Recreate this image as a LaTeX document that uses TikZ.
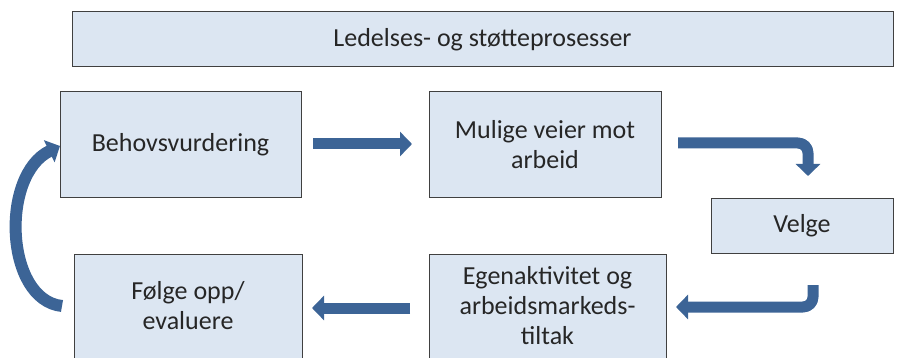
\documentclass[tikz,border=0pt]{standalone}
\usepackage{fontspec}
\setmainfont{Carlito}
\usetikzlibrary{arrows.meta}
\definecolor{boxfill}{HTML}{DCE6F2}
\definecolor{boxline}{HTML}{404040}
\definecolor{arrowblue}{HTML}{3C6496}
\tikzset{
  procbox/.style={draw=boxline, line width=1pt, fill=boxfill, text=black!85, font=\fontsize{26}{30}\selectfont, align=center, inner sep=0pt},
  flow/.style={draw=arrowblue, line width=11pt, -{Triangle[width=24pt,length=12pt]}, line join=round},
}
\begin{document}
\begin{tikzpicture}[x=1pt,y=-1pt]
\useasboundingbox (0,0) rectangle (901,358);
\node[procbox, minimum width=821pt, minimum height=55pt] (top) at (482.5,39.5) {Ledelses- og støtteprosesser};
\node[procbox, minimum width=241pt, minimum height=105pt] (beh) at (180.5,144.5) {Behovsvurdering};
\node[procbox, minimum width=232pt, minimum height=105pt] (mul) at (545,144.5) {Mulige veier mot\\arbeid};
\node[procbox, minimum width=182pt, minimum height=55pt] (vel) at (802,225.5) {Velge};
\node[procbox, minimum width=237pt, minimum height=104pt] (ege) at (547.5,306) {Egenaktivitet og\\arbeidsmarkeds-\\tiltak};
\node[procbox, minimum width=228pt, minimum height=104pt] (fol) at (188,306) {Følge opp/\\evaluere};
\coordinate (a1s) at (313,144);
\coordinate (a1e) at (412,144);
\draw[flow] (a1s) -- (a1e);
\coordinate (a2s) at (678,143);
\coordinate (a2e) at (808,176);
\draw[flow, rounded corners=10pt] (a2s) -- (808,143) -- (a2e);
\coordinate (a3s) at (813,285);
\coordinate (a3e) at (676,307);
\draw[flow, rounded corners=10pt] (a3s) -- (813,307) -- (a3e);
\coordinate (a4s) at (410,308);
\coordinate (a4e) at (312,308);
\draw[flow] (a4s) -- (a4e);
\coordinate (a5s) at (62,306);
\coordinate (a5e) at (60,146);
\draw[flow, line width=12pt] (a5s) .. controls (5,300) and (0,175) .. (a5e);
\end{tikzpicture}
\end{document}
